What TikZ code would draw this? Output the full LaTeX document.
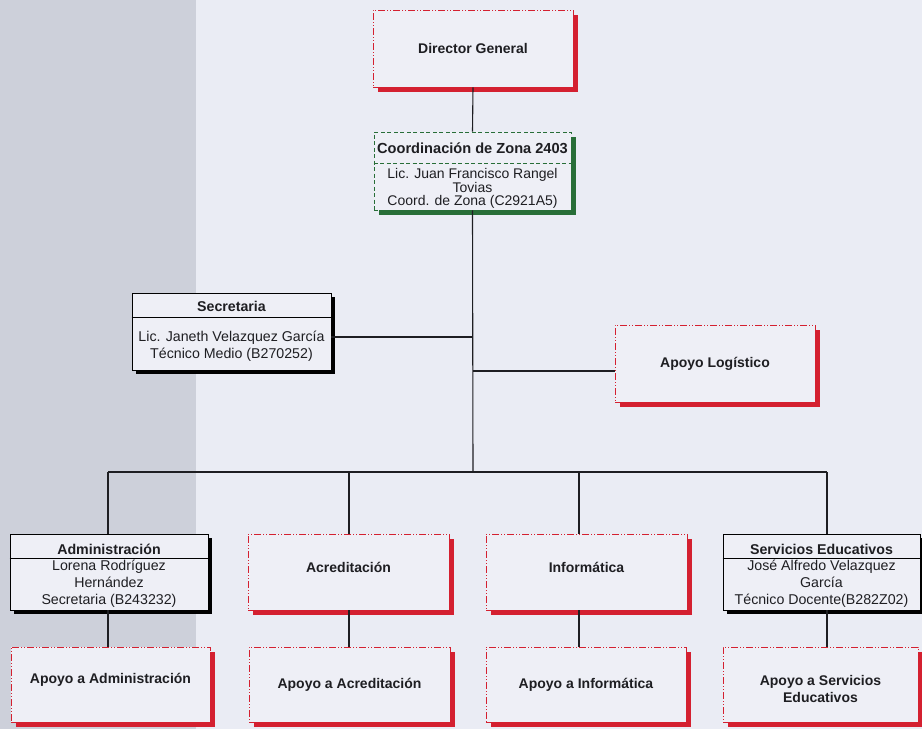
\documentclass[tikz,border=0pt]{standalone}
\usepackage{fontspec}
\setmainfont{Liberation Sans}
\usetikzlibrary{shadows}
\definecolor{bgleft}{RGB}{205,208,218}
\definecolor{bgright}{RGB}{234,236,244}
\definecolor{boxfill}{RGB}{238,239,246}
\definecolor{boxred}{RGB}{212,32,48}
\definecolor{boxgreen}{RGB}{40,110,56}
\definecolor{txt}{RGB}{30,30,34}
\tikzset{
  redbox/.style={draw=boxred, line width=0.9pt,
    dash pattern=on 7pt off 2pt on 1pt off 2pt on 1pt off 2pt,
    fill=boxfill, minimum width=200pt, minimum height=77pt, inner sep=2pt,
    align=center, text=txt, font=\bfseries\fontsize{14}{17}\selectfont,
    drop shadow={shadow xshift=5pt, shadow yshift=-5pt, opacity=1, fill=boxred}},
  redtxt/.style={align=center, text=txt, font=\bfseries\fontsize{14}{17}\selectfont, inner sep=0pt},
  greenbox/.style={draw=boxgreen, line width=0.9pt, dash pattern=on 4pt off 2.5pt,
    fill=boxfill, minimum width=197pt, minimum height=78pt, inner sep=0pt,
    drop shadow={shadow xshift=5pt, shadow yshift=-5pt, opacity=1, fill=boxgreen}},
  blackbox/.style={draw=black, line width=0.9pt, fill=boxfill,
    minimum height=77pt, inner sep=0pt,
    drop shadow={shadow xshift=4pt, shadow yshift=-4pt, opacity=1, fill=black}},
  hdr/.style={font=\bfseries\fontsize{14.2}{16}\selectfont, text=txt, inner sep=0pt},
  body/.style={font=\fontsize{14.2}{17}\selectfont, text=txt, align=center, inner sep=0pt},
  conn/.style={draw=txt, line width=1.1pt},
  divider/.style={draw=black, line width=0.7pt}
}
\begin{document}
\begin{tikzpicture}[x=1pt,y=-1pt]
\useasboundingbox (0,0) rectangle (922,729);
\fill[bgright] (0,0) rectangle (922,729);
\fill[bgleft] (0,0) rectangle (196,729);

% connector coordinates
\coordinate (j1) at (473,337);
\coordinate (j2) at (473,371);
\coordinate (bus) at (473,472);
\coordinate (bA) at (108,472);
\coordinate (bB) at (349,472);
\coordinate (bC) at (579,472);
\coordinate (bD) at (827,472);

% top
\node[redbox] (dir) at (473,48.5) {Director General};
\node[greenbox] (coord) at (472.5,171) {};
\node[hdr, font=\bfseries\fontsize{14.6}{16}\selectfont] (coordh) at (472.5,148) {Coordinación de Zona 2403};
\draw[draw=boxgreen, line width=0.9pt, dash pattern=on 4pt off 2.5pt] (coord.west |- 0,163) -- (coord.east |- 0,163);
\node[body, font=\fontsize{14}{12.8}\selectfont] (coordb) at (472.5,188.5) {Lic. Juan Francisco Rangel\\Tovias\\Coord. de Zona (C2921A5)};

% secretaria
\node[blackbox, minimum width=199pt] (sec) at (231.5,331.5) {};
\node[hdr] (sech) at (231.5,306) {Secretaria};
\draw[divider] (sec.west |- 0,317) -- (sec.east |- 0,317);
\node[body] (secb) at (231.5,346.5) {Lic. Janeth Velazquez García\\Técnico Medio (B270252)};

% apoyo logistico
\node[redbox] (log) at (715,363.5) {Apoyo Logístico};

% row 2
\node[blackbox, minimum width=198pt, minimum height=76pt] (adm) at (109,572) {};
\node[hdr] (admh) at (109,549) {Administración};
\draw[divider] (adm.west |- 0,558) -- (adm.east |- 0,558);
\node[body] (admb) at (109,584) {Lorena Rodríguez\\Hernández\\Secretaria (B243232)};

\node[redbox, minimum width=201pt, minimum height=76pt] (acr) at (348.5,572) {};
\node[redtxt] at ([yshift=5pt]acr.center) {Acreditación};
\node[redbox, minimum width=201pt, minimum height=76pt] (inf) at (586.5,572) {};
\node[redtxt] at ([yshift=5pt]inf.center) {Informática};

\node[blackbox, minimum width=197pt, minimum height=76pt] (ser) at (821.5,572) {};
\node[hdr] (serh) at (821.5,549) {Servicios Educativos};
\draw[divider] (ser.west |- 0,558) -- (ser.east |- 0,558);
\node[body] (serb) at (821.5,584) {José Alfredo Velazquez\\García\\Técnico Docente(B282Z02)};

% row 3
\node[redbox, minimum width=199pt, minimum height=75pt] (aadm) at (110.5,684.5) {};
\node[redtxt] at ([yshift=5pt]aadm.center) {Apoyo a Administración};
\node[redbox, minimum width=201pt, minimum height=75pt] (aacr) at (349.5,684.5) {Apoyo a Acreditación};
\node[redbox, minimum width=200pt, minimum height=75pt] (ainf) at (586,684.5) {Apoyo a Informática};
\node[redbox, minimum width=195pt, minimum height=75pt] (aser) at (820.5,684.5) {};
\node[redtxt] at ([yshift=-4pt]aser.center) {Apoyo a Servicios\\Educativos};

% connectors
\draw[conn] (dir.south) -- (coord.north);
\draw[conn] (coord.south) -- (bus);
\draw[conn] (sec.east |- j1) -- (j1);
\draw[conn] (j2) -- (log.west |- j2);
\draw[conn] (bA) -- (bD);
\draw[conn] (bA) -- (bA |- adm.north);
\draw[conn] (bB) -- (bB |- acr.north);
\draw[conn] (bC) -- (bC |- inf.north);
\draw[conn] (bD) -- (bD |- ser.north);
\draw[conn] (bA |- adm.south) -- (bA |- aadm.north);
\draw[conn] (bB |- acr.south) -- (bB |- aacr.north);
\draw[conn] (bC |- inf.south) -- (bC |- ainf.north);
\draw[conn] (bD |- ser.south) -- (bD |- aser.north);
\end{tikzpicture}
\end{document}
